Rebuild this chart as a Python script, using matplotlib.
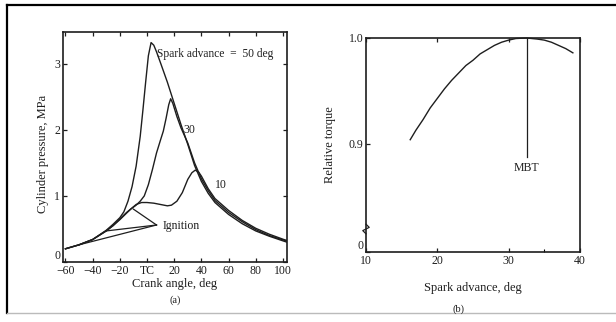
import matplotlib

matplotlib.use("Agg")
import matplotlib.pyplot as plt
from matplotlib.lines import Line2D

plt.rcParams["font.family"] = ["Liberation Serif", "DejaVu Serif"]

INK = "#1e1e1e"

# (a) cylinder pressure vs crank angle, one curve per spark advance
ca_50 = [-60, -50, -40, -30, -25, -20, -17, -14, -11, -8, -5, -3, -1, 1, 3, 5, 7, 10, 15, 20,
         25, 30, 35, 40, 45, 50, 60, 70, 80, 90, 100, 103]
p_50 = [0.20, 0.26, 0.34, 0.48, 0.57, 0.67, 0.76, 0.92, 1.14, 1.45, 1.90, 2.30, 2.72, 3.12,
        3.32, 3.28, 3.18, 3.01, 2.72, 2.40, 2.08, 1.78, 1.46, 1.22, 1.04, 0.90, 0.72, 0.58,
        0.47, 0.39, 0.32, 0.30]

ca_30 = [-60, -50, -40, -30, -25, -20, -15, -12, -8, -5, -2, 1, 4, 7, 10, 12, 14, 16, 17.4,
         19, 22, 25, 30, 35, 40, 45, 50, 60, 70, 80, 90, 100, 103]
p_30 = [0.20, 0.26, 0.34, 0.47, 0.55, 0.65, 0.75, 0.80, 0.86, 0.92, 1.00, 1.17, 1.40, 1.65,
        1.85, 1.98, 2.17, 2.38, 2.47, 2.40, 2.20, 2.03, 1.80, 1.50, 1.26, 1.08, 0.93, 0.75,
        0.61, 0.49, 0.40, 0.335, 0.315]

ca_10 = [-60, -50, -40, -30, -25, -20, -15, -12, -8, -4, 0, 5, 10, 15, 18, 22, 26, 30, 33,
         35.5, 38, 40, 45, 50, 60, 70, 80, 90, 100, 103]
p_10 = [0.20, 0.26, 0.34, 0.47, 0.55, 0.64, 0.74, 0.80, 0.87, 0.90, 0.90, 0.89, 0.87, 0.85,
        0.86, 0.92, 1.05, 1.25, 1.35, 1.39, 1.36, 1.30, 1.11, 0.96, 0.78, 0.63, 0.51, 0.42,
        0.345, 0.325]

ign_ca = [-50, -30, -10]
ign_p = [0.26, 0.47, 0.80]
ign_tip = (7, 0.56)

xticks_a = [-60, -40, -20, 0, 20, 40, 60, 80, 100]
xlabels_a = ["\u221260", "\u221240", "\u221220", "TC", "20", "40", "60", "80", "100"]
yticks_a = [0, 1, 2, 3]

# (b) relative torque vs spark advance
spark = [16.2, 17, 18, 19, 20, 21, 22, 23, 24, 25, 26, 27, 28, 29, 30, 31, 32.5, 34, 35, 36,
         37, 38, 39]
torque = [0.904, 0.913, 0.923, 0.934, 0.943, 0.952, 0.960, 0.967, 0.974, 0.979, 0.985, 0.989,
          0.993, 0.996, 0.998, 0.9995, 1.0, 0.999, 0.998, 0.996, 0.993, 0.990, 0.986]
mbt = 32.5

fig = plt.figure(figsize=(6.16, 3.22), dpi=100)

# scanned-page border
fig.add_artist(Line2D([7 / 616, 1], [1 - 5 / 322] * 2, color="black", lw=1.6))
fig.add_artist(Line2D([7 / 616] * 2, [1 - 5 / 322, 1 - 313 / 322], color="black", lw=1.6))
fig.add_artist(Line2D([7 / 616, 1], [1 - 313 / 322] * 2, color="#bbbbbb", lw=1.0))

ax = fig.add_axes([63 / 616, 1 - 262 / 322, 224 / 616, 230 / 322])
for xs, ps in ((ca_50, p_50), (ca_30, p_30), (ca_10, p_10)):
    ax.plot(xs, ps, color=INK, lw=1.0)
for x0, p0 in zip(ign_ca, ign_p):
    ax.plot([x0, ign_tip[0]], [p0, ign_tip[1]], color=INK, lw=0.9)
ax.text(11.5, 0.55, "Ignition", fontsize=8.5, va="center", ha="left", color=INK)
ax.text(7.5, 3.14, "Spark advance  =  50 deg", fontsize=8.3, va="center", ha="left", color=INK)
ax.text(26.5, 2.0, "30", fontsize=8.5, va="center", ha="left", color=INK)
ax.text(50, 1.17, "10", fontsize=8.5, va="center", ha="left", color=INK)
ax.set_xlim(-61.8, 103)
ax.set_ylim(0, 3.48)
ax.set_xticks(xticks_a)
ax.set_xticklabels(xlabels_a)
ax.set_yticks(yticks_a)
ax.tick_params(direction="in", top=True, right=True, length=3, width=0.9, labelsize=8.5,
               colors=INK, pad=2)
ax.get_yticklabels()[0].set_va("bottom")
ax.set_xlabel("Crank angle, deg", fontsize=9, color=INK)
ax.set_ylabel("Cylinder pressure, MPa", fontsize=9, color=INK)
ax.xaxis.set_label_coords(0.5, -0.07)
ax.yaxis.set_label_coords(-0.063, 0.47)
for s in ax.spines.values():
    s.set_linewidth(1.2)
    s.set_color(INK)
fig.text(175 / 616, 1 - 300 / 322, "(a)", fontsize=7.5, ha="center", va="center", color=INK)

bx = fig.add_axes([366 / 616, 1 - 252 / 322, 214 / 616, 214 / 322])
bx.plot(spark, torque, color=INK, lw=1.0, clip_on=False)
bx.plot([mbt, mbt], [1.0, 0.888], color=INK, lw=0.9)
bx.text(mbt, 0.877, "MBT", fontsize=8.5, ha="center", va="center", color=INK)
bx.set_xlim(10, 40)
bx.set_ylim(0.798, 1.0)
bx.set_xticks([10, 20, 30, 40])
bx.set_xticks([35], minor=True)
bx.set_yticks([0.798, 0.9, 1.0])
bx.set_yticklabels(["0", "0.9", "1.0"])
bx.tick_params(direction="in", top=True, length=3, width=0.9, labelsize=8.5, colors=INK, pad=2)
bx.tick_params(which="minor", direction="in", length=2, width=0.8)
bx.get_yticklabels()[0].set_va("bottom")
bx.set_xlabel("Spark advance, deg", fontsize=9, color=INK)
bx.set_ylabel("Relative torque", fontsize=9, color=INK)
bx.xaxis.set_label_coords(0.5, -0.14)
bx.yaxis.set_label_coords(-0.14, 0.5)
for s in bx.spines.values():
    s.set_linewidth(1.2)
    s.set_color(INK)
# axis break on the left spine
bx.add_artist(Line2D([0, 0], [0.085, 0.13], transform=bx.transAxes, color="white", lw=2.5,
                     clip_on=False))
bx.add_artist(Line2D([0, -0.015, 0.015, 0], [0.085, 0.1, 0.115, 0.13], transform=bx.transAxes,
                     color=INK, lw=0.9, clip_on=False))
fig.text(458 / 616, 1 - 309 / 322, "(b)", fontsize=7.5, ha="center", va="center", color=INK)

fig.savefig("out.png", dpi=100)
